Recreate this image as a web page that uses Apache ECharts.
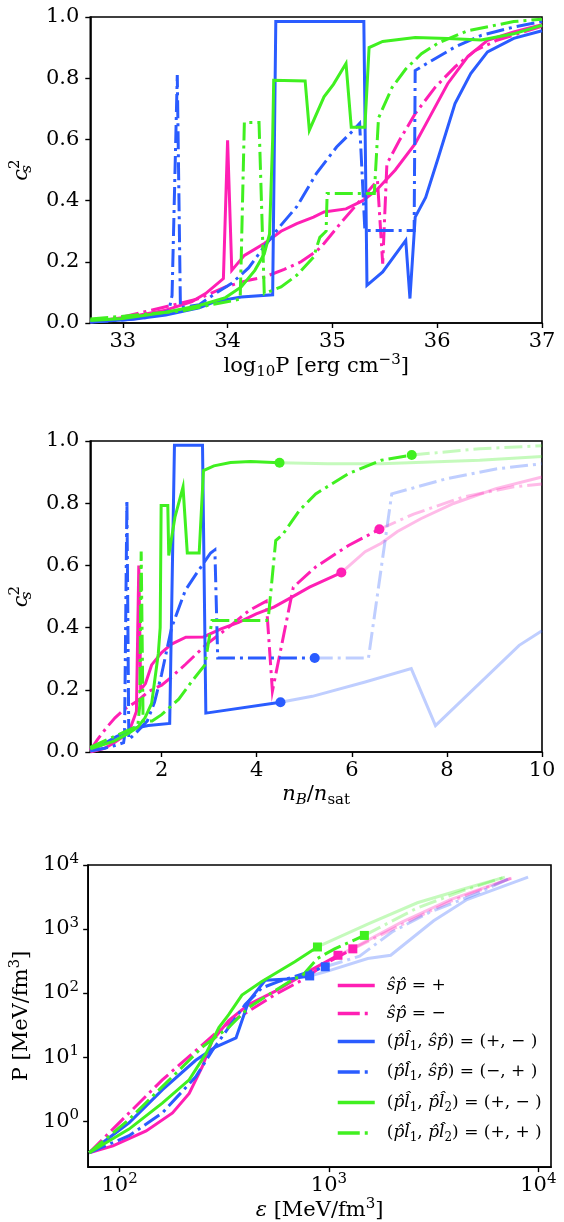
<!DOCTYPE html>
<html>
<head>
<meta charset="utf-8">
<script src="https://cdn.jsdelivr.net/npm/echarts@6/dist/echarts.min.js"></script>
<style>
  html, body { margin: 0; padding: 0; background: #fff; }
  #chart { width: 564px; height: 1222px; }
</style>
</head>
<body>
<div id="chart"></div>
<script>
// ── data: panel 1 (c_s^2 vs log10 P) ──────────────────────────────────────
const p1XTicks = [33, 34, 35, 36, 37];
const p1YTicks = [0, 0.2, 0.4, 0.6, 0.8, 1.0];

const p1SpPlus = [[32.69,0.003],[33.1,0.022],[33.41,0.042],[33.66,0.07],[33.79,0.096],[33.96,0.145],[34.0,0.597],[34.04,0.172],[34.16,0.221],[34.35,0.26],[34.51,0.30],[34.66,0.325],[34.82,0.346],[34.92,0.363],[35.13,0.373],[35.29,0.40],[35.42,0.434],[35.6,0.5],[35.79,0.586],[35.92,0.668],[36.1,0.782],[36.29,0.87],[36.48,0.924],[36.73,0.951],[37,0.975]];
const p1SpMinus = [[32.69,0.005],[33.0,0.02],[33.41,0.053],[33.73,0.08],[33.98,0.118],[34.2,0.14],[34.35,0.15],[34.54,0.175],[34.7,0.2],[34.85,0.235],[34.92,0.26],[35.10,0.335],[35.29,0.41],[35.43,0.466],[35.48,0.194],[35.52,0.52],[35.64,0.597],[35.79,0.684],[35.98,0.77],[36.17,0.837],[36.36,0.89],[36.57,0.924],[37,0.97]];
const p1BluePM = [[32.69,0.003],[33.1,0.012],[33.41,0.026],[33.73,0.05],[33.88,0.07],[34.13,0.085],[34.43,0.092],[34.46,0.985],[35.30,0.985],[35.33,0.123],[35.48,0.167],[35.70,0.27],[35.74,0.08],[35.79,0.346],[35.89,0.41],[36.01,0.54],[36.17,0.717],[36.32,0.815],[36.48,0.886],[36.73,0.93],[37,0.955]];
const p1BlueMP = [[32.69,0.003],[33.0,0.01],[33.26,0.019],[33.44,0.04],[33.47,0.09],[33.52,0.81],[33.55,0.05],[33.73,0.06],[33.88,0.096],[34.04,0.13],[34.2,0.18],[34.35,0.25],[34.51,0.32],[34.66,0.38],[34.85,0.49],[35.04,0.575],[35.2,0.63],[35.26,0.652],[35.31,0.302],[35.78,0.302],[35.79,0.825],[35.95,0.858],[36.17,0.902],[36.42,0.94],[36.73,0.967],[37,0.985]];
const p1GreenPM = [[32.69,0.008],[33.0,0.015],[33.41,0.035],[33.73,0.057],[33.98,0.083],[34.13,0.118],[34.26,0.172],[34.35,0.226],[34.40,0.29],[34.43,0.6],[34.44,0.793],[34.74,0.791],[34.78,0.63],[34.92,0.739],[35.01,0.78],[35.13,0.848],[35.18,0.64],[35.31,0.64],[35.35,0.90],[35.48,0.92],[35.79,0.933],[36.1,0.93],[36.42,0.925],[36.73,0.945],[37,0.973]];
const p1GreenPP = [[32.69,0.013],[33.1,0.025],[33.57,0.04],[33.88,0.062],[34.12,0.078],[34.13,0.21],[34.16,0.655],[34.30,0.655],[34.35,0.096],[34.51,0.118],[34.66,0.156],[34.82,0.215],[34.88,0.28],[34.94,0.30],[34.95,0.423],[35.40,0.423],[35.44,0.67],[35.57,0.77],[35.70,0.83],[35.85,0.88],[36.01,0.915],[36.29,0.955],[36.73,0.985],[37,0.993]];

// ── data: panel 2 (c_s^2 vs n_B/n_sat), solid part then faded part ───────
const p2XTicks = [2, 4, 6, 8, 10];
const p2YTicks = [0, 0.2, 0.4, 0.6, 0.8, 1.0];

const p2SpPlus = [[0.5,0.0],[0.8,0.012],[1.0,0.03],[1.2,0.05],[1.35,0.08],[1.47,0.13],[1.52,0.6],[1.56,0.2],[1.66,0.22],[1.79,0.28],[2.0,0.32],[2.21,0.347],[2.51,0.369],[2.88,0.37],[3.25,0.396],[3.62,0.417],[3.99,0.444],[4.36,0.466],[4.74,0.498],[5.11,0.53],[5.78,0.577]];
const p2SpPlusFade = [[5.78,0.577],[6.28,0.644],[6.62,0.671],[6.96,0.709],[7.45,0.75],[8.14,0.799],[9.03,0.847],[10,0.884]];
const p2SpMinus = [[0.5,0.005],[0.65,0.04],[0.85,0.08],[1.02,0.11],[1.24,0.14],[1.5,0.165],[1.72,0.194],[2.0,0.215],[2.2,0.24],[2.51,0.283],[2.95,0.347],[3.4,0.4],[3.84,0.455],[4.2,0.485],[4.33,0.196],[4.77,0.53],[5.24,0.595],[5.93,0.664],[6.58,0.716]];
const p2SpMinusFade = [[6.58,0.716],[7.3,0.765],[8.34,0.82],[9.38,0.852],[10,0.862]];
const p2BluePM = [[0.5,0.005],[0.72,0.021],[1.03,0.048],[1.38,0.075],[1.72,0.085],[2.17,0.092],[2.27,0.986],[2.86,0.986],[2.93,0.125],[4.5,0.16]];
const p2BluePMFade = [[4.5,0.16],[5.17,0.179],[6.28,0.225],[7.25,0.268],[7.76,0.085],[9.52,0.343],[10,0.39]];
const p2BlueMP = [[0.5,0.003],[0.8,0.012],[1.0,0.02],[1.2,0.03],[1.22,0.05],[1.27,0.81],[1.31,0.04],[1.45,0.06],[1.7,0.1],[1.85,0.16],[2.0,0.25],[2.21,0.40],[2.5,0.52],[2.76,0.58],[3.03,0.64],[3.12,0.65],[3.18,0.302],[5.22,0.302]];
const p2BlueMPFade = [[5.22,0.302],[6.35,0.302],[6.84,0.83],[8.0,0.879],[9.03,0.91],[10,0.927]];
const p2GreenPM = [[0.5,0.01],[1.0,0.035],[1.3,0.06],[1.5,0.08],[1.65,0.11],[1.79,0.156],[1.93,0.316],[1.97,0.4],[1.99,0.793],[2.13,0.793],[2.15,0.632],[2.28,0.755],[2.45,0.852],[2.54,0.64],[2.79,0.64],[2.88,0.905],[3.1,0.92],[3.45,0.931],[3.87,0.934],[4.48,0.93]];
const p2GreenPMFade = [[4.48,0.93],[5.5,0.927],[6.62,0.927],[7.5,0.932],[8.69,0.938],[10,0.95]];
const p2GreenPP = [[0.5,0.015],[1.0,0.05],[1.3,0.07],[1.5,0.085],[1.54,0.15],[1.57,0.645],[1.61,0.1],[1.8,0.1],[2.0,0.12],[2.36,0.17],[2.65,0.23],[2.91,0.28],[3.06,0.423],[4.21,0.423],[4.25,0.44],[4.4,0.68],[4.55,0.70],[4.9,0.777],[5.24,0.83],[5.93,0.895],[6.62,0.938],[7.26,0.955]];
const p2GreenPPFade = [[7.26,0.955],[8.69,0.975],[10,0.985]];

// ── data: panel 3 (P vs energy density, log-log) ─────────────────────────
const p3XTicks = [100, 1000, 10000];
const p3YTicks = [1, 10, 100, 1000, 10000];

const p3SpPlus = [[71.6,0.32],[93,0.41],[134,0.70],[179,1.34],[215,2.7],[248,7.0],[277,18],[332,37],[413,66],[552,106],[824,230],[1104,389]];
const p3SpPlusFade = [[1104,389],[1300,500],[2203,1260],[3800,2880],[7450,6240]];
const p3SpMinus = [[71.6,0.32],[111,1.34],[160,4.4],[231,12.6],[309,29],[413,52],[552,94],[740,158],[1000,310],[1300,490]];
const p3SpMinusFade = [[1300,490],[2203,1150],[3800,2700],[7450,6240]];
const p3BluePM = [[71.6,0.32],[111,0.94],[160,3.07],[231,8.9],[287,14.3],[360,20],[413,74],[496,158],[640,165],[809,185]];
const p3BluePMFade = [[809,185],[960,214],[1531,346],[1972,389],[3162,1344],[4560,2884],[8930,6460]];
const p3BlueMP = [[71.6,0.32],[111,0.59],[160,1.34],[231,4.9],[277,12.6],[332,29],[398,66],[478,120],[573,151],[960,257]];
const p3BlueMPFade = [[960,257],[1400,376],[2000,900],[3000,1800],[5000,3500],[7300,6200]];
const p3GreenPM = [[71.6,0.32],[111,0.75],[160,1.91],[215,4.4],[258,11.2],[298,28.8],[332,46],[384,93],[478,151],[687,309],[881,524]];
const p3GreenPMFade = [[881,524],[1531,1194],[2642,2570],[4560,4370],[6920,6460]];
const p3GreenPP = [[71.6,0.32],[111,1.06],[160,3.45],[215,8.9],[248,14.3],[332,29],[413,59],[514,94],[687,170],[741,181],[881,347],[1064,490],[1476,794]];
const p3GreenPPFade = [[1476,794],[2642,2140],[4560,4170],[6920,6460]];

// legend
const legendNames = ['spP', 'spM', 'bluePM', 'blueMP', 'greenPM', 'greenPP'];
const legendDashed = [false, true, false, true, false, true];
const legendLabels = [
  '{i|ŝp̂}{r| = +}',
  '{i|ŝp̂}{r| = −}',
  '{r|(}{i|p̂l̂}{sub|1}{r|, }{i|ŝp̂}{r|) = (+, − )}',
  '{r|(}{i|p̂l̂}{sub|1}{r|, }{i|ŝp̂}{r|) = (−, + )}',
  '{r|(}{i|p̂l̂}{sub|1}{r|, }{i|p̂l̂}{sub|2}{r|) = (+, − )}',
  '{r|(}{i|p̂l̂}{sub|1}{r|, }{i|p̂l̂}{sub|2}{r|) = (+, + )}'
];

// ── styles ────────────────────────────────────────────────────────────────
const FONT = 'DejaVu Serif';
const MAG = '#ff1fb4', BLUE = '#2a5cff', GREEN = '#40f020';
const DASHDOT = [18, 5, 3, 5];
const FADE = 0.3;

function richSet(size, small, lh) {
  const base = { fontFamily: FONT, color: '#000' };
  return {
    r:   Object.assign({}, base, { fontSize: size, lineHeight: lh, verticalAlign: 'middle' }),
    i:   Object.assign({}, base, { fontStyle: 'italic', fontSize: size, lineHeight: lh, verticalAlign: 'middle' }),
    b:   Object.assign({}, base, { fontSize: size, lineHeight: lh, verticalAlign: 'middle' }),
    sub: Object.assign({}, base, { fontSize: small, lineHeight: small, verticalAlign: 'bottom' }),
    isub:Object.assign({}, base, { fontStyle: 'italic', fontSize: small, lineHeight: small, verticalAlign: 'bottom' }),
    sup: Object.assign({}, base, { fontSize: small, lineHeight: small, verticalAlign: 'top' }),
    s0:  Object.assign({}, base, { fontStyle: 'italic', fontSize: small, lineHeight: small, verticalAlign: 'bottom', width: 0.01 })
  };
}
const titleRich = richSet(21, 15, 27);
const tickRich = richSet(21, 15, 27);
const legendRich = richSet(17, 12, 22);

function lineSeries(grid, data, color, dashed, faded, name) {
  return {
    type: 'line', name: name, xAxisIndex: grid, yAxisIndex: grid, data: data,
    symbol: 'none', silent: true, animation: false,
    lineStyle: { color: color, width: 3, type: dashed ? DASHDOT : 'solid', opacity: faded ? FADE : 1, cap: 'butt', join: 'miter' },
    itemStyle: { color: color },
    z: faded ? 1 : 2
  };
}
function markerSeries(grid, data, color, shape, size) {
  return {
    type: 'scatter', xAxisIndex: grid, yAxisIndex: grid, data: [data[data.length - 1]],
    symbol: shape, symbolSize: size, silent: true, animation: false,
    itemStyle: { color: color, opacity: 1 }, z: 3
  };
}

function valueAxis(grid, min, max, ticks, fmt, name, nameGap, pos) {
  return {
    type: 'value', gridIndex: grid, min: min, max: max, position: pos,
    axisLine: { show: true, onZero: false, lineStyle: { color: '#000', width: 1.6 } },
    axisTick: { show: true, inside: false, length: 5, customValues: ticks, lineStyle: { color: '#000', width: 1.4 } },
    axisLabel: { customValues: ticks, formatter: fmt, margin: pos === 'left' ? 11 : 8, fontFamily: FONT, fontSize: 21, color: '#000' },
    splitLine: { show: false },
    name: name, nameLocation: 'middle', nameGap: nameGap,
    nameRotate: pos === 'left' ? 90 : 0,
    nameTextStyle: { rich: titleRich }
  };
}
function logAxis(grid, min, max, ticks, name, nameGap, pos) {
  return {
    type: 'log', logBase: 10, gridIndex: grid, min: min, max: max, position: pos,
    axisLine: { show: true, onZero: false, lineStyle: { color: '#000', width: 1.6 } },
    axisTick: { show: true, inside: false, length: 5, customValues: ticks, lineStyle: { color: '#000', width: 1.4 } },
    axisLabel: {
      customValues: ticks, margin: pos === 'left' ? 9 : 5,
      formatter: function (v) { return '{b|10}{sup|' + Math.round(Math.log10(v)) + '}'; },
      rich: tickRich
    },
    minorTick: { show: false },
    splitLine: { show: false },
    name: name, nameLocation: 'middle', nameGap: nameGap,
    nameRotate: pos === 'left' ? 90 : 0,
    nameTextStyle: { rich: titleRich }
  };
}

const int = function (v) { return String(v); };
const one = function (v) { return v.toFixed(1); };
const csLabel = '{i|c}{s0|s}{sup|2}';

const series = [
  // panel 1
  lineSeries(0, p1SpPlus, MAG, false, false),
  lineSeries(0, p1SpMinus, MAG, true, false),
  lineSeries(0, p1BluePM, BLUE, false, false),
  lineSeries(0, p1BlueMP, BLUE, true, false),
  lineSeries(0, p1GreenPM, GREEN, false, false),
  lineSeries(0, p1GreenPP, GREEN, true, false),
  // panel 2
  lineSeries(1, p2SpPlusFade, MAG, false, true),
  lineSeries(1, p2SpMinusFade, MAG, true, true),
  lineSeries(1, p2BluePMFade, BLUE, false, true),
  lineSeries(1, p2BlueMPFade, BLUE, true, true),
  lineSeries(1, p2GreenPMFade, GREEN, false, true),
  lineSeries(1, p2GreenPPFade, GREEN, true, true),
  lineSeries(1, p2SpPlus, MAG, false, false),
  lineSeries(1, p2SpMinus, MAG, true, false),
  lineSeries(1, p2BluePM, BLUE, false, false),
  lineSeries(1, p2BlueMP, BLUE, true, false),
  lineSeries(1, p2GreenPM, GREEN, false, false),
  lineSeries(1, p2GreenPP, GREEN, true, false),
  markerSeries(1, p2SpPlus, MAG, 'circle', 10),
  markerSeries(1, p2SpMinus, MAG, 'circle', 10),
  markerSeries(1, p2BluePM, BLUE, 'circle', 10),
  markerSeries(1, p2BlueMP, BLUE, 'circle', 10),
  markerSeries(1, p2GreenPM, GREEN, 'circle', 10),
  markerSeries(1, p2GreenPP, GREEN, 'circle', 10),
  // panel 3
  lineSeries(2, p3SpPlusFade, MAG, false, true),
  lineSeries(2, p3SpMinusFade, MAG, true, true),
  lineSeries(2, p3BluePMFade, BLUE, false, true),
  lineSeries(2, p3BlueMPFade, BLUE, true, true),
  lineSeries(2, p3GreenPMFade, GREEN, false, true),
  lineSeries(2, p3GreenPPFade, GREEN, true, true),
  lineSeries(2, p3SpPlus, MAG, false, false, legendNames[0]),
  lineSeries(2, p3SpMinus, MAG, true, false, legendNames[1]),
  lineSeries(2, p3BluePM, BLUE, false, false, legendNames[2]),
  lineSeries(2, p3BlueMP, BLUE, true, false, legendNames[3]),
  lineSeries(2, p3GreenPM, GREEN, false, false, legendNames[4]),
  lineSeries(2, p3GreenPP, GREEN, true, false, legendNames[5]),
  markerSeries(2, p3SpPlus, MAG, 'rect', 9),
  markerSeries(2, p3SpMinus, MAG, 'rect', 9),
  markerSeries(2, p3BluePM, BLUE, 'rect', 9),
  markerSeries(2, p3BlueMP, BLUE, 'rect', 9),
  markerSeries(2, p3GreenPM, GREEN, 'rect', 9),
  markerSeries(2, p3GreenPP, GREEN, 'rect', 9)
];

const chart = echarts.init(document.getElementById('chart'), null, { renderer: 'canvas' });
chart.setOption({
  animation: false,
  backgroundColor: '#fff',
  grid: [
    { left: 83, top: 17, width: 459, height: 306, show: true, borderColor: '#000', borderWidth: 1.6, backgroundColor: 'transparent' },
    { left: 83, top: 441, width: 459, height: 311, show: true, borderColor: '#000', borderWidth: 1.6, backgroundColor: 'transparent' },
    { left: 84, top: 865, width: 467, height: 307, show: true, borderColor: '#000', borderWidth: 1.6, backgroundColor: 'transparent' }
  ],
  xAxis: [
    valueAxis(0, 32.69, 37, p1XTicks, int, '{r|log}{sub|10}{r|P [erg cm}{sup|−3}{r|]}', 29, 'bottom'),
    valueAxis(1, 0.5, 10, p2XTicks, int, '{i|n}{isub|B}{r|/}{i|n}{sub|sat}', 29, 'bottom'),
    logAxis(2, 70.8, 11490, p3XTicks, '{i|ε}{r| [MeV/fm}{sup|3}{r|]}', 28, 'bottom')
  ],
  yAxis: [
    valueAxis(0, 0, 1, p1YTicks, one, csLabel, 44, 'left'),
    valueAxis(1, 0, 1, p2YTicks, one, csLabel, 44, 'left'),
    logAxis(2, 0.191, 10000, p3YTicks, '{r|P [MeV/fm}{sup|3}{r|]}', 45, 'left')
  ],
  legend: {
    show: true, orient: 'vertical', left: 336, top: 977,
    itemWidth: 37, itemHeight: 14, itemGap: 11, padding: 0,
    data: legendNames.map(function (n, k) {
      return {
        name: n,
        lineStyle: { width: 3.5, type: legendDashed[k] ? [22, 5, 3, 20] : 'solid', cap: 'butt' }
      };
    }),
    formatter: function (name) { return legendLabels[legendNames.indexOf(name)]; },
    textStyle: { rich: legendRich, padding: [0, 0, 0, 7] },
    itemStyle: { opacity: 0 },
    selectedMode: false
  },
  series: series
});
</script>
</body>
</html>
